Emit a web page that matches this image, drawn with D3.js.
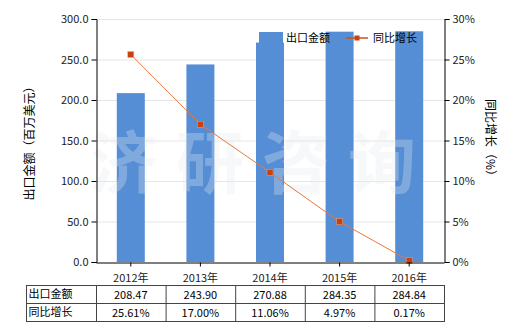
<!DOCTYPE html>
<html>
<head>
<meta charset="utf-8">
<script src="https://cdn.jsdelivr.net/npm/d3@7"></script>
<style>
  body { margin: 0; background: #fff; }
  text { font-family: "Noto Sans CJK SC", "DejaVu Sans", sans-serif; }
</style>
</head>
<body>
<div id="chart"></div>
<script>
const years = ["2012年", "2013年", "2014年", "2015年", "2016年"];
const exportValue = [208.47, 243.90, 270.88, 284.35, 284.84];
const growth = [25.61, 17.00, 11.06, 4.97, 0.17];
const leftTicks = [0, 50, 100, 150, 200, 250, 300];
const rightTicks = [0, 5, 10, 15, 20, 25, 30];

const w = 520, h = 330;
const margin = { top: 19, right: 76, bottom: 68, left: 96 };
const plotW = w - margin.left - margin.right;
const plotH = h - margin.top - margin.bottom;

const svg = d3.select("#chart").append("svg")
  .attr("width", w)
  .attr("height", h);

const xScale = d3.scaleBand().domain(years).range([margin.left, margin.left + plotW]);
const yLeft = d3.scaleLinear().domain([0, 300]).range([margin.top + plotH, margin.top]);
const yRight = d3.scaleLinear().domain([0, 30]).range([margin.top + plotH, margin.top]);

// grid
svg.append("g")
  .selectAll("line")
  .data(leftTicks.slice(1))
  .enter()
  .append("line")
  .attr("x1", margin.left)
  .attr("x2", margin.left + plotW)
  .attr("y1", d => yLeft(d) + 0.5)
  .attr("y2", d => yLeft(d) + 0.5)
  .attr("stroke", "#e6e6e6");

// bars
const barW = 28;
svg.selectAll(".bar")
  .data(exportValue)
  .enter()
  .append("rect")
  .attr("class", "bar")
  .attr("x", (d, i) => xScale(years[i]) + xScale.bandwidth() / 2 - barW / 2)
  .attr("y", d => yLeft(d))
  .attr("width", barW)
  .attr("height", d => yLeft(0) - yLeft(d))
  .attr("fill", "#558ed5");

// watermark
svg.append("text")
  .attr("x", 262)
  .attr("y", 188)
  .attr("text-anchor", "middle")
  .style("font-size", "68px")
  .style("font-weight", "bold")
  .style("letter-spacing", "18px")
  .style("fill", "#e4eaf0")
  .style("opacity", 0.3)
  .text("济研咨询");

// legend
const legend = svg.append("g");
legend.append("rect")
  .attr("x", 259).attr("y", 32).attr("width", 24).attr("height", 11)
  .attr("fill", "#558ed5");
legend.append("text")
  .attr("x", 286).attr("y", 42)
  .style("font-size", "11px")
  .text("出口金额");
legend.append("line")
  .attr("x1", 346).attr("x2", 368).attr("y1", 38).attr("y2", 38)
  .attr("stroke", "#c8501e").attr("stroke-width", 1.5);
legend.append("rect")
  .attr("x", 354.5).attr("y", 35.5).attr("width", 5).attr("height", 5)
  .attr("fill", "#c8410f");
legend.append("text")
  .attr("x", 373).attr("y", 42)
  .style("font-size", "11px")
  .text("同比增长");

// line
const line = d3.line()
  .x((d, i) => xScale(years[i]) + xScale.bandwidth() / 2)
  .y(d => yRight(d));

svg.append("path")
  .datum(growth)
  .attr("d", line)
  .attr("fill", "none")
  .attr("stroke", "#e8783c")
  .attr("stroke-width", 1);

svg.selectAll(".dot")
  .data(growth)
  .enter()
  .append("rect")
  .attr("class", "dot")
  .attr("x", (d, i) => xScale(years[i]) + xScale.bandwidth() / 2 - 3)
  .attr("y", d => yRight(d) - 3)
  .attr("width", 6)
  .attr("height", 6)
  .attr("fill", "#c8410f")
  .attr("stroke", "#f0a070")
  .attr("stroke-width", 0.5);

// axes
const leftAxis = d3.axisLeft(yLeft).tickValues(leftTicks).tickFormat(d3.format(".1f")).tickSizeOuter(0).tickSize(5);
const gl = svg.append("g")
  .attr("transform", "translate(" + (margin.left + 0.5) + ",0)")
  .call(leftAxis);

const rightAxis = d3.axisRight(yRight).tickValues(rightTicks).tickFormat(d => d + "%").tickSizeOuter(0).tickSize(5);
const gr = svg.append("g")
  .attr("transform", "translate(" + (margin.left + plotW + 0.5) + ",0)")
  .call(rightAxis);

const bottomAxis = d3.axisBottom(xScale).tickSize(4).tickSizeOuter(0);
const gb = svg.append("g")
  .attr("transform", "translate(0," + (margin.top + plotH + 0.5) + ")")
  .call(bottomAxis);

[gl, gr, gb].forEach(g => {
  g.selectAll("text").style("font-size", "11px").style("fill", "#222")
    .style("font-family", "'Noto Sans CJK SC', sans-serif");
  g.selectAll("path, line").attr("stroke", "#000");
});
gb.selectAll("text").attr("dy", "1.1em");

// axis titles
svg.append("text")
  .attr("transform", "translate(34," + (margin.top + plotH / 2) + ") rotate(-90)")
  .attr("text-anchor", "middle")
  .style("font-size", "12px")
  .text("出口金额（百万美元）");

svg.append("text")
  .attr("transform", "translate(486," + (margin.top + plotH / 2) + ") rotate(90)")
  .attr("text-anchor", "middle")
  .style("font-size", "12px")
  .text("同比增长（%）");

// table
const tableTop = 285, rowH = 18, tableLeft = 26.5;
const rows = [
  { label: "出口金额", values: exportValue.map(d => d.toFixed(2)) },
  { label: "同比增长", values: growth.map(d => d.toFixed(2) + "%") }
];
const right = margin.left + plotW + 0.5;
const table = svg.append("g");
table.append("rect")
  .attr("x", tableLeft).attr("y", tableTop + 0.5)
  .attr("width", right - tableLeft).attr("height", rowH * 2)
  .attr("fill", "none").attr("stroke", "#444");
table.append("line")
  .attr("x1", tableLeft).attr("x2", right)
  .attr("y1", tableTop + rowH + 0.5).attr("y2", tableTop + rowH + 0.5)
  .attr("stroke", "#444");
table.selectAll(".vline")
  .data(years)
  .enter()
  .append("line")
  .attr("x1", d => xScale(d) + 0.5)
  .attr("x2", d => xScale(d) + 0.5)
  .attr("y1", tableTop)
  .attr("y2", tableTop + rowH * 2 + 0.5)
  .attr("stroke", "#444");

rows.forEach((r, ri) => {
  const y = tableTop + ri * rowH + 13;
  table.append("text")
    .attr("x", tableLeft + 2).attr("y", y)
    .style("font-size", "11px")
    .text(r.label);
  table.selectAll(".cell" + ri)
    .data(r.values)
    .enter()
    .append("text")
    .attr("x", (d, i) => xScale(years[i]) + xScale.bandwidth() / 2)
    .attr("y", y + 1)
    .attr("text-anchor", "middle")
    .style("font-size", "11px")
    .text(d => d);
});
</script>
</body>
</html>
